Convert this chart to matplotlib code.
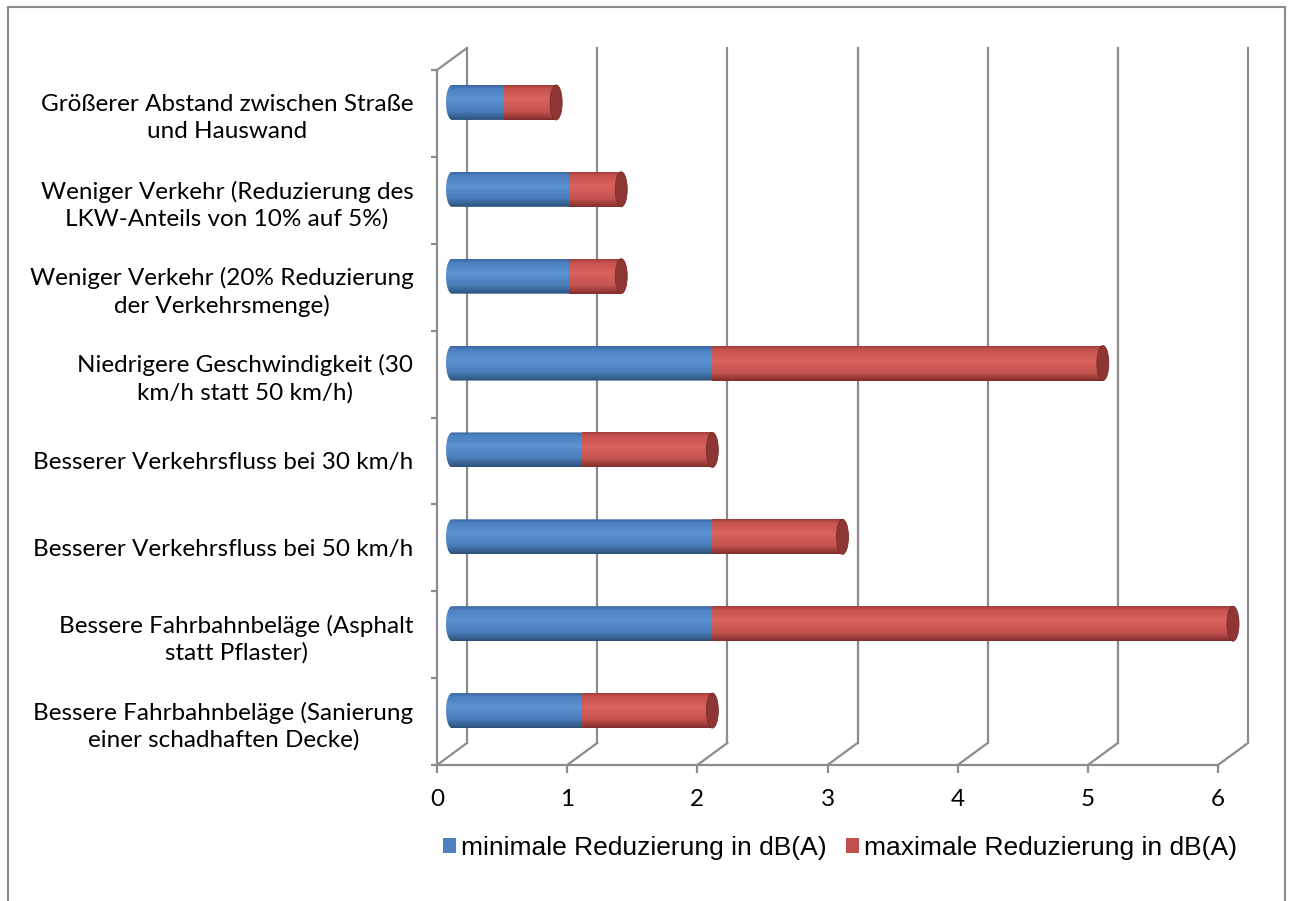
import numpy as np
import matplotlib
matplotlib.use('Agg')
from matplotlib import pyplot as plt
from matplotlib.colors import LinearSegmentedColormap
from matplotlib.patches import Polygon, Ellipse, Patch, Rectangle

# Kategorien (von oben nach unten) und Werte in dB(A)
kategorien = [
    'Größerer Abstand zwischen Straße\nund Hauswand',
    'Weniger Verkehr (Reduzierung des\nLKW-Anteils von 10% auf 5%)',
    'Weniger Verkehr (20% Reduzierung\nder Verkehrsmenge)',
    'Niedrigere Geschwindigkeit (30\nkm/h statt 50 km/h)',
    'Besserer Verkehrsfluss bei 30 km/h',
    'Besserer Verkehrsfluss bei 50 km/h',
    'Bessere Fahrbahnbeläge (Asphalt\nstatt Pflaster)',
    'Bessere Fahrbahnbeläge (Sanierung\neiner schadhaften Decke)',
]
min_red = np.array([0.4, 0.9, 0.9, 2.0, 1.0, 2.0, 2.0, 1.0])
max_red = np.array([0.4, 0.4, 0.4, 3.0, 1.0, 1.0, 4.0, 1.0])
x_ticks = [0, 1, 2, 3, 4, 5, 6]
legende = ['minimale Reduzierung in dB(A)', 'maximale Reduzierung in dB(A)']

BLAU = '#4F81BD'
ROT = '#C0504D'
GRAU = '#8c8c8c'

W, H = 1292, 901
fig = plt.figure(figsize=(W / 100, H / 100), dpi=100)
ax = fig.add_axes([437 / W, 136 / H, 781 / W, 695 / H])
n = len(kategorien)
ax.set_xlim(0, 6)
ax.set_ylim(n - 0.5, -0.5)

# Tiefe der 3D-Darstellung in Dateneinheiten
px_x = 781 / 6.0
px_y = 695 / float(n)
ddx = 30 / px_x
ddy = 22 / px_y

# Rückwand-Gitterlinien und Diagonalen
for k in x_ticks:
    ax.plot([k + ddx, k + ddx], [n - 0.5 - ddy, -0.5 - ddy], color=GRAU,
            lw=1.6, clip_on=False, zorder=1)
    ax.plot([k, k + ddx], [n - 0.5, n - 0.5 - ddy], color=GRAU,
            lw=1.6, clip_on=False, zorder=1)
ax.plot([0, ddx], [-0.5, -0.5 - ddy], color=GRAU, lw=1.6, clip_on=False, zorder=1)

blau_cmap = LinearSegmentedColormap.from_list(
    'b', [(0, '#3a679e'), (0.1, '#4c80bf'), (0.4, '#5c93d4'),
          (0.75, '#4a7cb8'), (0.92, '#35608f'), (1, '#2b4f7a')])
rot_cmap = LinearSegmentedColormap.from_list(
    'r', [(0, '#a23e3b'), (0.1, '#c6524e'), (0.4, '#d9625d'),
          (0.75, '#c45450'), (0.92, '#9a3a37'), (1, '#7e2e2c')])
verlauf = np.linspace(0, 1, 200).reshape(-1, 1)

bh = 35 / px_y
rx = 6 / px_x
ry = bh / 2


def segment(x0, x1, yc, cmap, links_rund):
    ts = np.linspace(np.pi / 2, -np.pi / 2, 40)
    if links_rund:
        links = np.column_stack([x0 - rx * np.cos(ts), yc + ry * np.sin(ts)])
    else:
        links = np.array([[x0, yc + ry], [x0, yc - ry]])
    rechts = np.array([[x1, yc - ry], [x1, yc + ry]])
    poly = Polygon(np.vstack([links, rechts]), closed=True, transform=ax.transData,
                   facecolor='none', edgecolor='none')
    im = ax.imshow(verlauf, cmap=cmap, aspect='auto', origin='upper',
                   extent=(x0 - rx, x1, yc + ry, yc - ry), zorder=3,
                   interpolation='bilinear')
    im.set_clip_path(poly)
    im.set_clip_box(fig.bbox)


for i in range(n):
    yc = i - ddy / 2
    x0 = ddx / 2
    xm = x0 + min_red[i]
    xe = xm + max_red[i]
    segment(x0, xm, yc, blau_cmap, True)
    segment(xm, xe, yc, rot_cmap, False)
    ax.add_patch(Ellipse((xe, yc), 2 * rx, 2 * ry, facecolor='#8e3634',
                         edgecolor='#7a2c2a', lw=0.6, zorder=4, clip_on=False))

ax.set_xlim(0, 6)
ax.set_ylim(n - 0.5, -0.5)

for s in ['top', 'right']:
    ax.spines[s].set_visible(False)
for s in ['left', 'bottom']:
    ax.spines[s].set_color(GRAU)
    ax.spines[s].set_linewidth(1.6)

schrift = ['Lato', 'DejaVu Sans']
ax.set_xticks(x_ticks)
ax.set_xticklabels([str(t) for t in x_ticks], family=schrift, fontsize=17.5)
ax.tick_params(axis='x', length=6, width=1.6, color=GRAU, pad=11)
ax.set_yticks(np.arange(n + 1) - 0.5)
ax.set_yticklabels([])
ax.tick_params(axis='y', which='major', length=4.5, width=1.6, color=GRAU)
ax.set_yticks(np.arange(n), minor=True)
ax.set_yticklabels(kategorien, minor=True, family=schrift, fontsize=17.5)
ax.tick_params(axis='y', which='minor', length=0, pad=17)
for t in ax.get_yticklabels(minor=True):
    t.set_multialignment('center')
    t.set_linespacing(1.3)
ax.set_facecolor('none')

handles = [Patch(facecolor=BLAU), Patch(facecolor=ROT)]
fig.legend(handles, legende, loc='center', bbox_to_anchor=(840 / W, 1 - 848 / H),
           ncol=2, frameon=False, prop={'family': 'Liberation Sans', 'size': 19},
           handlelength=0.5, handleheight=0.5, handletextpad=0.2,
           columnspacing=0.7)

fig.patches.append(Rectangle((8 / W, -0.01), 1277 / W, 1.01 - 7 / H,
                             transform=fig.transFigure, fill=False,
                             edgecolor='#8a8a8a', lw=1.5))

fig.savefig('out.png', dpi=100)
